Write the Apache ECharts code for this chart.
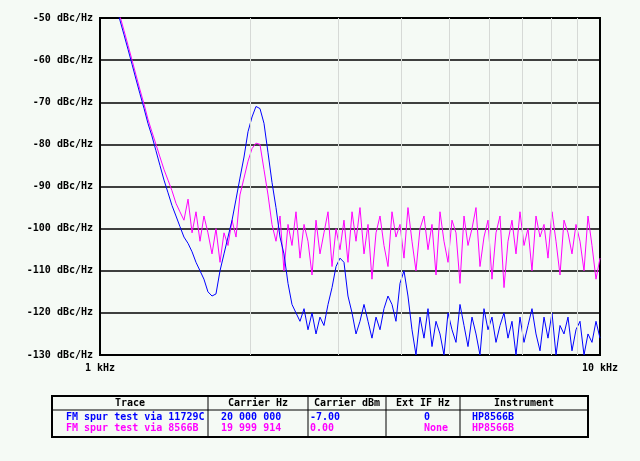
<!DOCTYPE html>
<html><head><meta charset="utf-8">
<script src="https://cdn.jsdelivr.net/npm/echarts@6/dist/echarts.min.js"></script>
<style>html,body{margin:0;padding:0;background:#f5faf5}#c{width:640px;height:461px}</style>
</head><body><div id="c"></div>
<script>
const freqHz = [1000,1019,1038,1057,1076,1096,1117,1138,1159,1180,1202,1225,1247,1270,1294,1318,1343,1368,1393,1419,1445,1472,1500,1528,1556,1585,1614,1644,1675,1706,1738,1770,1803,1837,1871,1905,1941,1977,2014,2051,2089,2128,2168,2208,2249,2291,2333,2377,2421,2466,2512,2559,2606,2655,2704,2754,2805,2858,2911,2965,3020,3076,3133,3192,3251,3311,3373,3436,3499,3565,3631,3698,3767,3837,3908,3981,4055,4130,4207,4285,4365,4446,4529,4613,4699,4786,4875,4966,5058,5152,5248,5346,5445,5546,5649,5754,5861,5970,6081,6194,6310,6427,6546,6668,6792,6918,7047,7178,7311,7447,7586,7727,7870,8017,8166,8318,8472,8630,8790,8954,9120,9290,9462,9638,9817,10000];
const trace11729C = [-32,-36,-40,-43.5,-47,-50.5,-54,-57.5,-61,-64.5,-68,-71.5,-75,-78,-81.5,-85,-88.5,-91.5,-94.5,-97,-99.5,-102,-103.5,-105.5,-108,-110,-112,-115,-116,-115.5,-110,-106,-102,-98,-93,-88,-83,-77,-73.5,-71,-71.5,-75,-82,-89,-95,-102,-106,-113,-118,-120,-122,-119,-124,-120,-125,-121,-123,-118,-114,-109,-107,-108,-116,-120,-125,-122,-118,-122,-126,-121,-124,-119,-116,-118,-122,-113,-110,-116,-124,-130,-121,-126,-119,-128,-122,-125,-130,-120,-124,-127,-118,-123,-128,-121,-125,-130,-119,-124,-121,-127,-123,-120,-126,-122,-130,-121,-127,-123,-119,-125,-129,-121,-126,-120,-130,-123,-125,-121,-129,-124,-122,-130,-125,-127,-122,-126];
const trace8566B = [-31,-35,-39,-42.5,-46,-49.5,-53,-56.5,-60,-63.5,-67,-70.5,-74,-77,-80,-83,-86,-88.5,-91,-94,-96,-98,-93,-101,-96,-103,-97,-101,-106,-100,-108,-101,-104,-98,-102,-92,-88,-84,-81,-79.7,-80,-86,-92,-99,-103,-97,-110,-99,-104,-96,-107,-99,-103,-111,-98,-106,-101,-96,-109,-100,-105,-98,-108,-96,-103,-95,-106,-99,-112,-101,-97,-104,-109,-96,-102,-99,-107,-95,-103,-110,-100,-97,-105,-99,-111,-96,-103,-108,-98,-101,-113,-97,-104,-100,-95,-109,-102,-98,-112,-101,-97,-114,-103,-98,-106,-96,-104,-100,-110,-97,-102,-99,-107,-96,-103,-111,-98,-101,-106,-99,-103,-110,-97,-104,-112,-107];
const minorGridHz = [2000,3000,4000,5000,6000,7000,8000,9000];
const tableHeader = ['Trace','Carrier Hz','Carrier dBm','Ext IF Hz','Instrument'];
const row1 = ['FM spur test via 11729C','20 000 000','-7.00','0','HP8566B'];
const row2 = ['FM spur test via 8566B','19 999 914','0.00','None','HP8566B'];

const F = '"DejaVu Sans Mono", monospace';
const pair = a => freqHz.map((f,i)=>[f,a[i]]);
const chart = echarts.init(document.getElementById('c'));
const colHx = [130,258,347,423,524], colX = [66,221,310,424,472];
const g = [
 {type:'rect',shape:{x:52,y:396,width:536,height:41},style:{fill:'#f5faf5',stroke:'#000',lineWidth:2}},
 {type:'line',shape:{x1:52,y1:410,x2:588,y2:410},style:{stroke:'#000',lineWidth:1}}
];
[208,308,386,460].forEach(x=>g.push({type:'line',shape:{x1:x,y1:396,x2:x,y2:437},style:{stroke:'#000',lineWidth:1}}));
tableHeader.forEach((t,i)=>g.push({type:'text',x:colHx[i],y:403,style:{text:t,font:'bold 10px '+F,fill:'#000',align:'center',verticalAlign:'middle'}}));
row1.forEach((t,i)=>g.push({type:'text',x:colX[i],y:417,style:{text:t,font:'bold 10px '+F,fill:'#0000ff',verticalAlign:'middle'}}));
row2.forEach((t,i)=>g.push({type:'text',x:colX[i],y:428,style:{text:t,font:'bold 10px '+F,fill:'#ff00ff',verticalAlign:'middle'}}));
chart.setOption({
 animation:false, backgroundColor:'#f5faf5',
 grid:{left:100,right:40,top:18,bottom:106,show:true,borderColor:'#000',borderWidth:2,backgroundColor:'#f5faf5'},
 xAxis:{type:'log',logBase:10,min:1000,max:10000,axisLine:{show:false},axisTick:{show:false},splitLine:{show:false},
   axisLabel:{formatter:v=>(v/1000)+' kHz',color:'#000',fontWeight:'bold',fontFamily:F,fontSize:10,margin:8,showMinLabel:true,showMaxLabel:true}},
 yAxis:{type:'value',min:-130,max:-50,interval:10,axisLine:{show:false},axisTick:{show:false},
   splitLine:{lineStyle:{color:'#000',width:1.5}},
   axisLabel:{formatter:v=>v+' dBc/Hz',color:'#000',fontWeight:'bold',fontFamily:F,fontSize:10,margin:7}},
 graphic:g,
 series:[
  {type:'line',data:[],markLine:{silent:true,symbol:'none',label:{show:false},lineStyle:{color:'#d6d9d6',type:'solid',width:1},data:minorGridHz.map(f=>({xAxis:f}))}},
  {type:'line',data:pair(trace8566B),showSymbol:false,lineStyle:{color:'#ff00ff',width:1},z:3},
  {type:'line',data:pair(trace11729C),showSymbol:false,lineStyle:{color:'#0000ff',width:1},z:4}
 ]
});
</script></body></html>
